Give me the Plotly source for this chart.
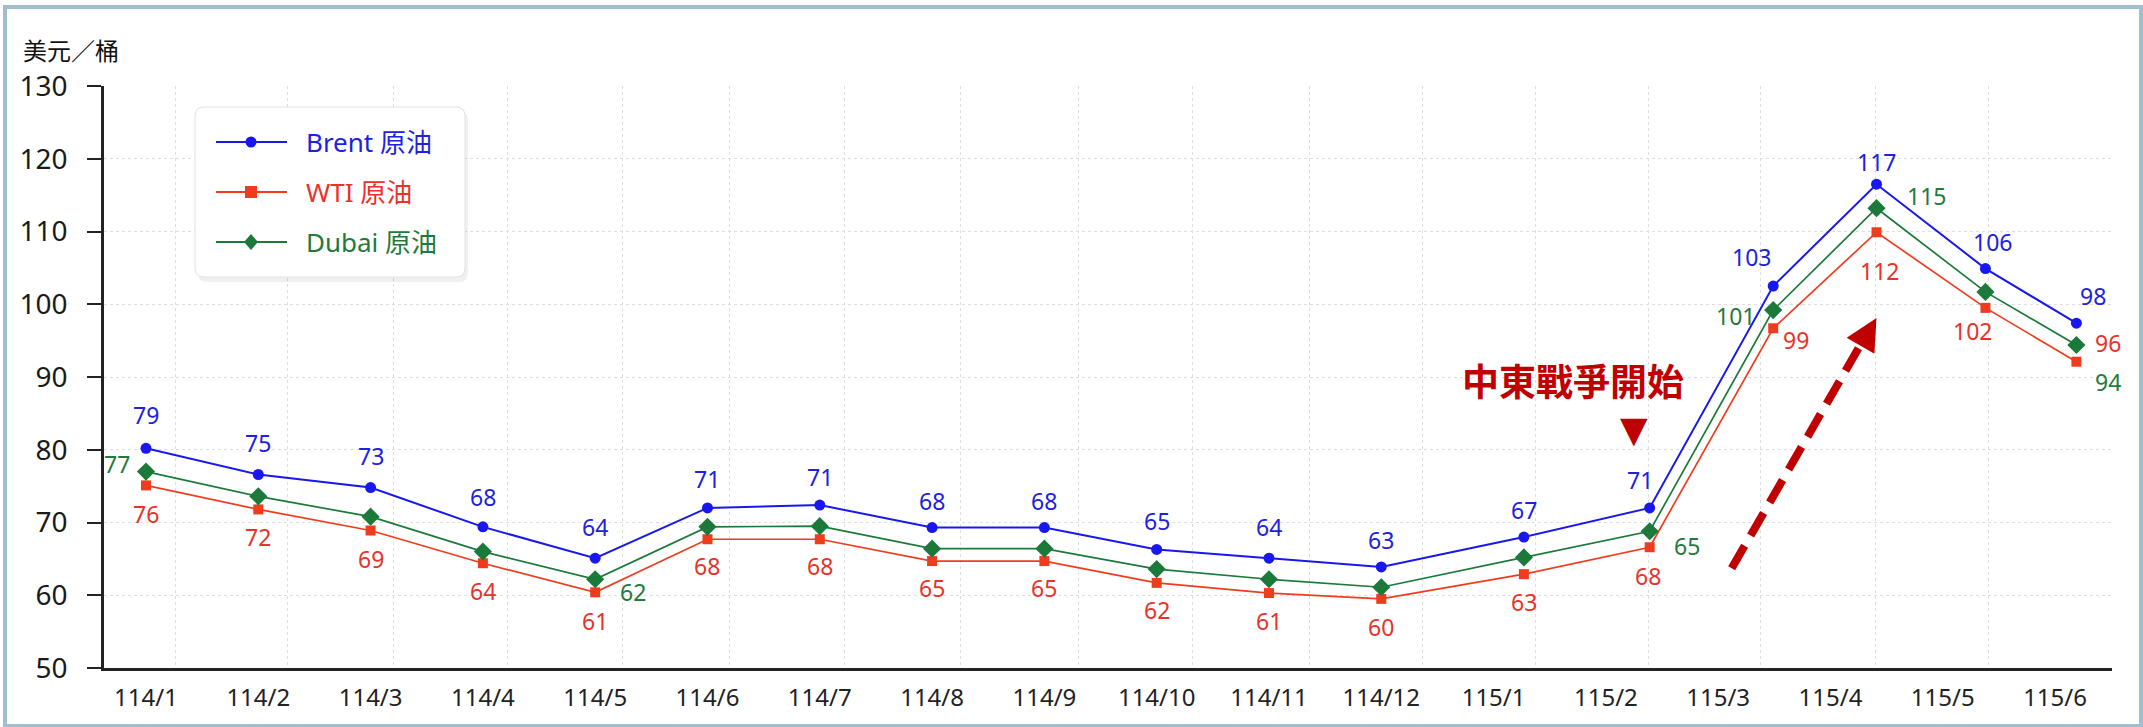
import plotly.graph_objects as go

# ---------------- data ----------------
months = ["114/1", "114/2", "114/3", "114/4", "114/5", "114/6", "114/7", "114/8", "114/9",
          "114/10", "114/11", "114/12", "115/1", "115/2", "115/3", "115/4", "115/5", "115/6"]
tick_pos = list(range(18))
x_pos = [0, 1, 2, 3, 4, 5, 6, 7, 8, 9, 10, 11, 12.27, 13.39, 14.49, 15.41, 16.38, 17.19]

brent = [80.2, 76.6, 74.8, 69.4, 65.1, 72.0, 72.4, 69.3, 69.3, 66.3, 65.1, 63.9,
         68.0, 72.0, 102.5, 116.5, 104.9, 97.4]
wti = [75.1, 71.8, 68.9, 64.4, 60.4, 67.7, 67.7, 64.7, 64.7, 61.7, 60.3, 59.5,
       62.9, 66.6, 96.7, 109.9, 99.5, 92.1]
dubai = [77.0, 73.6, 70.8, 66.0, 62.2, 69.4, 69.5, 66.4, 66.4, 63.6, 62.2, 61.1,
         65.2, 68.8, 99.2, 113.2, 101.7, 94.4]

brent_labels = ["79", "75", "73", "68", "64", "71", "71", "68", "68", "65", "64", "63",
                "67", "71", "103", "117", "106", "98"]
wti_labels = ["76", "72", "69", "64", "61", "68", "68", "65", "65", "62", "61", "60",
              "63", "68", "99", "112", "102", "96"]
dubai_labels = ["77", "", "", "", "62", "", "", "", "", "", "", "",
                "", "65", "101", "115", "", "94"]

series_names = ["Brent 原油", "WTI 原油", "Dubai 原油"]

grid_x = [0.26, 1.26, 2.2, 3.22, 4.24, 5.2, 6.22, 7.25, 8.3, 9.32, 10.36, 11.37,
          12.37, 13.38, 14.38, 15.4, 16.41, 17.5]

# label offsets (pixels) - styling
brent_off = [(0, 33), (0, 31), (0, 32), (0, 30), (0, 31), (0, 29), (0, 28), (0, 27), (0, 27),
             (0, 28), (0, 31), (0, 27), (0, 27), (-10, 28), (-22, 29), (0, 22), (7, 27), (17, 27)]
wti_off = [(0, -29), (0, -28), (0, -28), (0, -28), (0, -29), (0, -27), (0, -27), (0, -27), (0, -27),
           (0, -27), (0, -28), (0, -28), (0, -28), (-2, -29), (23, -12), (3, -39), (-13, -23), (32, 19)]
dubai_off = [(-29, 8), (0, 0), (0, 0), (0, 0), (38, -13), (0, 0), (0, 0), (0, 0), (0, 0),
             (0, 0), (0, 0), (0, 0), (0, 0), (37, -15), (-38, -6), (50, 12), (0, 0), (32, -37)]

# ---------------- layout constants ----------------
W, H = 2143, 727
ML, MR, MT, MB = 104, 31, 86, 59
PW, PH = W - ML - MR, H - MT - MB


def pxx(px):
    return (px - ML) / PW


def pxy(py):
    return (H - MB - py) / PH


BLUE = "#1818ee"
RED = "#f03c1e"
GREEN = "#1b7a3a"
BLUE_T = "#2020e0"
RED_T = "#e8322a"
GREEN_T = "#1f7a3c"
DARKRED = "#c00000"
FONT = "Noto Sans, Noto Sans CJK TC, sans-serif"

fig = go.Figure()
fig.add_trace(go.Scatter(
    x=x_pos, y=brent, mode="lines+markers", name=series_names[0],
    line=dict(color=BLUE, width=2), marker=dict(symbol="circle", size=11, color=BLUE)))
fig.add_trace(go.Scatter(
    x=x_pos, y=wti, mode="lines+markers", name=series_names[1],
    line=dict(color=RED, width=1.7), marker=dict(symbol="square", size=10, color=RED)))
fig.add_trace(go.Scatter(
    x=x_pos, y=dubai, mode="lines+markers", name=series_names[2],
    line=dict(color=GREEN, width=1.7), marker=dict(symbol="diamond", size=14, color=GREEN)))

annotations = []
for series, labels, offs, col in [(brent, brent_labels, brent_off, BLUE_T),
                                  (wti, wti_labels, wti_off, RED_T),
                                  (dubai, dubai_labels, dubai_off, GREEN_T)]:
    for xv, yv, t, (dx, dy) in zip(x_pos, series, labels, offs):
        if not t:
            continue
        annotations.append(dict(x=xv, y=yv, xref="x", yref="y", text=t, showarrow=False,
                                xshift=dx, yshift=dy, font=dict(family=FONT, size=23, color=col)))

# axis unit title
annotations.append(dict(x=pxx(21), y=pxy(49), xref="paper", yref="paper", text="美元／桶",
                        showarrow=False, xanchor="left", yanchor="middle",
                        font=dict(family="Noto Sans CJK TC", size=24, color="#111111")))
# event annotation
annotations.append(dict(x=x_pos[13], y=brent[13], xref="x", yref="y", text="<b>中東戰爭開始</b>",
                        showarrow=False, xshift=-77, yshift=128,
                        font=dict(family="Noto Sans CJK TC", size=37, color=DARKRED)))
annotations.append(dict(x=x_pos[13], y=brent[13], xref="x", yref="y", text="▼",
                        showarrow=False, xshift=-16, yshift=78,
                        font=dict(family="DejaVu Sans", size=36, color=DARKRED)))
# arrow head
annotations.append(dict(x=15.41, y=98.1, xref="x", yref="y", text="", showarrow=True,
                        ax=-15, ay=26, arrowhead=2, arrowsize=0.8, arrowwidth=8,
                        arrowcolor=DARKRED, standoff=0))

shapes = [
    dict(type="line", xref="x", yref="y", x0=14.12, y0=63.7, x1=15.27, y1=94.5,
         line=dict(color=DARKRED, width=8, dash="26px,12px")),
    dict(type="rect", xref="paper", yref="paper", x0=pxx(5), x1=pxx(2141), y0=pxy(726), y1=pxy(7),
         line=dict(color="#9fbfce", width=4), layer="below"),
]


# ---------------- custom legend (box, samples, text) ----------------
def rounded_rect(x0, y0, x1, y1, r):
    pts = [
        (x0 + r, y0), (x1 - r, y0), ("Q", x1, y0, x1, y0 + r), (x1, y1 - r),
        ("Q", x1, y1, x1 - r, y1), (x0 + r, y1), ("Q", x0, y1, x0, y1 - r),
        (x0, y0 + r), ("Q", x0, y0, x0 + r, y0),
    ]
    d = f"M {pxx(pts[0][0])},{pxy(pts[0][1])}"
    for p in pts[1:]:
        if p[0] == "Q":
            d += f" Q {pxx(p[1])},{pxy(p[2])} {pxx(p[3])},{pxy(p[4])}"
        else:
            d += f" L {pxx(p[0])},{pxy(p[1])}"
    return d + " Z"


LEG_X0, LEG_Y0, LEG_X1, LEG_Y1 = 195, 107, 465, 277
shapes.append(dict(type="path", xref="paper", yref="paper", layer="above",
                   path=rounded_rect(LEG_X0 + 3, LEG_Y0 + 4, LEG_X1 + 3, LEG_Y1 + 5, 9),
                   fillcolor="rgba(0,0,0,0.06)", line=dict(width=0)))
shapes.append(dict(type="path", xref="paper", yref="paper", layer="above",
                   path=rounded_rect(LEG_X0, LEG_Y0, LEG_X1, LEG_Y1, 9),
                   fillcolor="white", line=dict(color="#e2e2e2", width=1)))

leg_rows = [142, 192, 242]
leg_cols = [BLUE, RED, GREEN]
leg_tcols = [BLUE_T, RED_T, GREEN_T]
for i, (ry, c, tc, nm) in enumerate(zip(leg_rows, leg_cols, leg_tcols, series_names)):
    shapes.append(dict(type="line", xref="paper", yref="paper", layer="above",
                       x0=pxx(216), x1=pxx(287), y0=pxy(ry), y1=pxy(ry),
                       line=dict(color=c, width=2)))
    cx = 251
    if i == 0:
        shapes.append(dict(type="circle", xref="paper", yref="paper", layer="above",
                           x0=pxx(cx - 5.5), x1=pxx(cx + 5.5), y0=pxy(ry + 5.5), y1=pxy(ry - 5.5),
                           fillcolor=c, line=dict(width=0)))
    elif i == 1:
        shapes.append(dict(type="rect", xref="paper", yref="paper", layer="above",
                           x0=pxx(cx - 6), x1=pxx(cx + 6), y0=pxy(ry + 6), y1=pxy(ry - 6),
                           fillcolor=c, line=dict(width=0)))
    else:
        shapes.append(dict(type="path", xref="paper", yref="paper", layer="above",
                           path=(f"M {pxx(cx)},{pxy(ry - 8)} L {pxx(cx + 7)},{pxy(ry)} "
                                 f"L {pxx(cx)},{pxy(ry + 8)} L {pxx(cx - 7)},{pxy(ry)} Z"),
                           fillcolor=c, line=dict(width=0)))
    annotations.append(dict(x=pxx(304), y=pxy(ry), xref="paper", yref="paper", text=nm,
                            showarrow=False, xanchor="left", yanchor="middle",
                            font=dict(family=FONT, size=26, color=tc)))

fig.update_layout(
    width=W, height=H,
    margin=dict(l=ML, r=MR, t=MT, b=MB, autoexpand=False),
    paper_bgcolor="white", plot_bgcolor="white",
    font=dict(family=FONT, color="#222222"),
    showlegend=False,
    annotations=annotations,
    shapes=shapes,
    xaxis=dict(range=[-0.374, 17.507], tickmode="array", tickvals=tick_pos, ticktext=months,
               showgrid=False, zeroline=False, showline=True, linecolor="#222222", linewidth=2.5,
               ticks="", tickfont=dict(family=FONT, size=24, color="#222222"),
               ticklabelstandoff=6,
               minor=dict(tickmode="array", tickvals=grid_x, showgrid=True, gridcolor="#dedede",
                          griddash="dot", gridwidth=1, ticks="")),
    yaxis=dict(range=[50, 130], dtick=10, tick0=50, showgrid=True, gridcolor="#dedede",
               griddash="dot", gridwidth=1, zeroline=False, showline=True, linecolor="#222222",
               linewidth=2.5, ticks="outside", ticklen=14, tickwidth=2, tickcolor="#222222",
               tickfont=dict(family=FONT, size=28, color="#1a1a1a"), ticklabelstandoff=14),
)

fig.write_html("out.html")
